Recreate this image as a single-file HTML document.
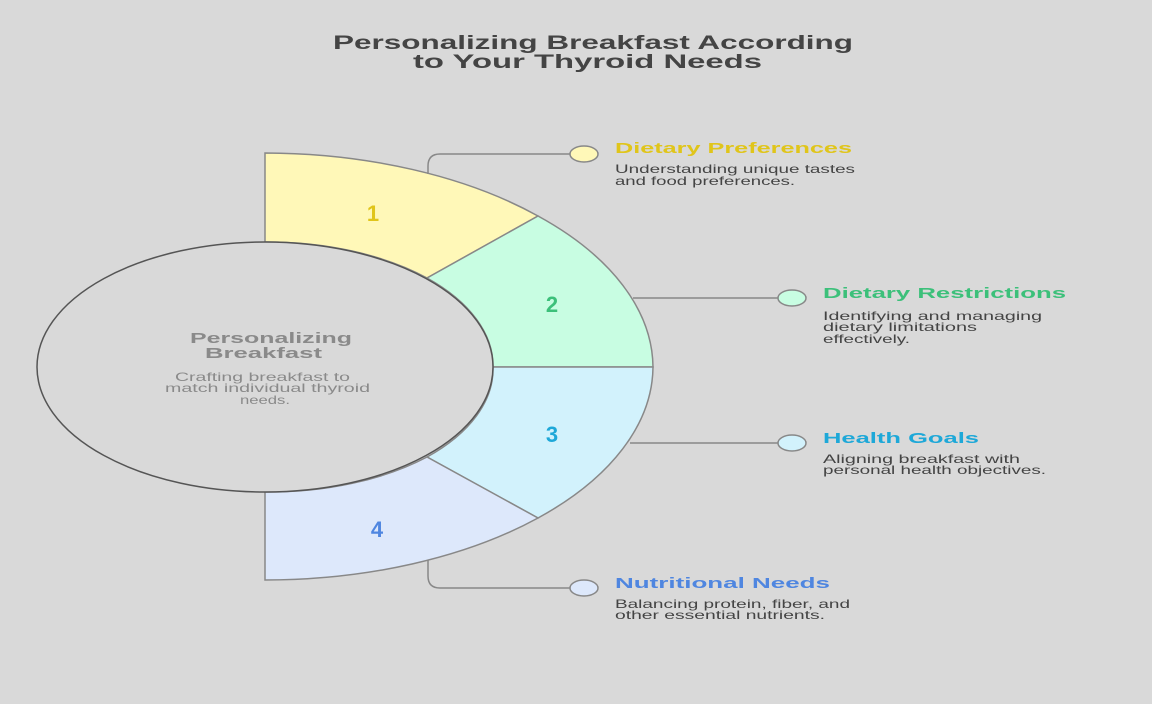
<!DOCTYPE html>
<html><head><meta charset="utf-8"><style>
body{margin:0;background:#d9d9d9;}
svg{display:block;font-family:"Liberation Sans",sans-serif;}
</style></head><body>
<svg width="1152" height="704" viewBox="0 0 1152 704">
<rect width="1152" height="704" fill="#d9d9d9"/>
<text x="333" y="49" textLength="520" lengthAdjust="spacingAndGlyphs" font-size="19" font-weight="bold" fill="#444">Personalizing Breakfast According</text>
<text x="413" y="68" textLength="349" lengthAdjust="spacingAndGlyphs" font-size="19" font-weight="bold" fill="#444">to Your Thyroid Needs</text>
<g stroke="#888" stroke-width="1.5">
<path d="M265,153 A388,214 0 0 1 538,216 L427,278 A228,125 0 0 0 265,242 Z" fill="#fff8b8"/>
<path d="M538,216 A388,214 0 0 1 653,367 L493,367 A228,125 0 0 0 427,278 Z" fill="#c8fde2"/>
<path d="M653,367 A388,214 0 0 1 538,518 L427,457 A228,125 0 0 0 493,367 Z" fill="#d2f2fc"/>
<path d="M538,518 A388,214 0 0 1 265,580 L265,492 A228,125 0 0 0 427,457 Z" fill="#dde8fb"/>
</g>
<ellipse cx="265" cy="367" rx="228" ry="125" fill="#d9d9d9" stroke="#555" stroke-width="1.5"/>
<g font-size="22" font-weight="bold" text-anchor="middle">
<text x="373" y="221" fill="#e0c51a">1</text>
<text x="552" y="312" fill="#3cc07a">2</text>
<text x="552" y="442" fill="#1ea8d8">3</text>
<text x="377" y="537" fill="#4f86e0">4</text>
</g>
<g font-size="15" font-weight="bold" fill="#8a8a8a" lengthAdjust="spacingAndGlyphs">
<text x="190" y="343" textLength="162" lengthAdjust="spacingAndGlyphs">Personalizing</text>
<text x="205" y="358" textLength="117" lengthAdjust="spacingAndGlyphs">Breakfast</text>
</g>
<g font-size="12" fill="#8a8a8a">
<text x="175" y="381" textLength="175" lengthAdjust="spacingAndGlyphs">Crafting breakfast to</text>
<text x="165" y="392" textLength="205" lengthAdjust="spacingAndGlyphs">match individual thyroid</text>
<text x="240" y="404" textLength="50" lengthAdjust="spacingAndGlyphs">needs.</text>
</g>
<g stroke="#888" stroke-width="1.5" fill="none">
<path d="M428,174 L428,166 Q428,154 440,154 L570,154"/>
<path d="M633,298 L778,298"/>
<path d="M630,443 L778,443"/>
<path d="M428,560 L428,576 Q428,588 440,588 L570,588"/>
</g>
<g stroke="#888" stroke-width="1.5">
<ellipse cx="584" cy="154" rx="14" ry="8" fill="#fff8b8"/>
<ellipse cx="792" cy="298" rx="14" ry="8" fill="#c8fde2"/>
<ellipse cx="792" cy="443" rx="14" ry="8" fill="#d2f2fc"/>
<ellipse cx="584" cy="588" rx="14" ry="8" fill="#dde8fb"/>
</g>
<g font-size="15" font-weight="bold">
<text x="615" y="153" textLength="237" lengthAdjust="spacingAndGlyphs" fill="#e0c51a">Dietary Preferences</text>
<text x="823" y="298" textLength="243" lengthAdjust="spacingAndGlyphs" fill="#3cc07a">Dietary Restrictions</text>
<text x="823" y="443" textLength="156" lengthAdjust="spacingAndGlyphs" fill="#1ea8d8">Health Goals</text>
<text x="615" y="588" textLength="215" lengthAdjust="spacingAndGlyphs" fill="#4f86e0">Nutritional Needs</text>
</g>
<g font-size="12" fill="#444">
<text x="615" y="173" textLength="240" lengthAdjust="spacingAndGlyphs">Understanding unique tastes</text>
<text x="615" y="185" textLength="180" lengthAdjust="spacingAndGlyphs">and food preferences.</text>
<text x="823" y="320" textLength="219" lengthAdjust="spacingAndGlyphs">Identifying and managing</text>
<text x="823" y="331" textLength="154" lengthAdjust="spacingAndGlyphs">dietary limitations</text>
<text x="823" y="343" textLength="87" lengthAdjust="spacingAndGlyphs">effectively.</text>
<text x="823" y="463" textLength="197" lengthAdjust="spacingAndGlyphs">Aligning breakfast with</text>
<text x="823" y="474" textLength="223" lengthAdjust="spacingAndGlyphs">personal health objectives.</text>
<text x="615" y="608" textLength="235" lengthAdjust="spacingAndGlyphs">Balancing protein, fiber, and</text>
<text x="615" y="619" textLength="210" lengthAdjust="spacingAndGlyphs">other essential nutrients.</text>
</g>
</svg>
</body></html>
